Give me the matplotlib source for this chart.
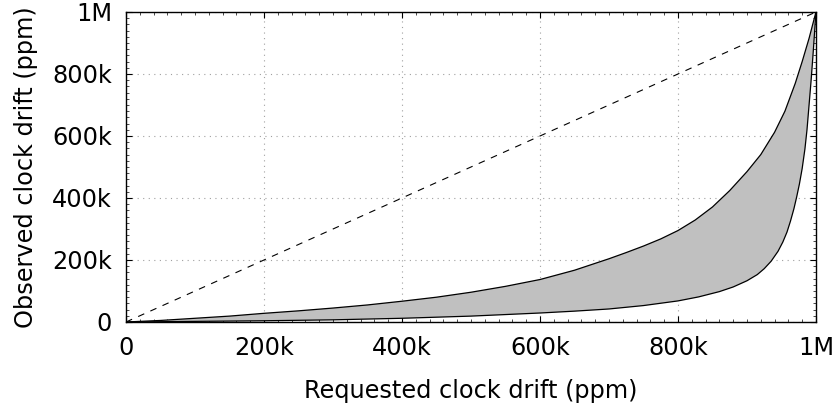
import matplotlib
matplotlib.use("Agg")
import matplotlib.pyplot as plt
from matplotlib.ticker import FixedLocator, MultipleLocator

# Requested drift (ppm) and observed drift bounds (ppm)
upper_x = [0, 50e3, 100e3, 150e3, 200e3, 250e3, 300e3, 350e3, 400e3, 450e3,
           500e3, 550e3, 600e3, 650e3, 700e3, 725e3, 750e3, 775e3, 800e3,
           825e3, 850e3, 875e3, 900e3, 920e3, 940e3, 955e3, 970e3, 980e3,
           990e3, 1000e3]
upper_y = [0, 5e3, 12e3, 19e3, 28e3, 36e3, 45e3, 55e3, 67e3, 80e3,
           96e3, 115e3, 137e3, 167e3, 204e3, 224e3, 245e3, 268e3, 295e3,
           329e3, 371e3, 424e3, 485e3, 540e3, 612e3, 680e3, 770e3, 840e3,
           915e3, 1000e3]

lower_x = [0, 100e3, 200e3, 300e3, 400e3, 500e3, 600e3, 650e3, 700e3, 750e3,
           800e3, 830e3, 860e3, 880e3, 900e3, 915e3, 925e3, 935e3, 945e3,
           952e3, 958e3, 963e3, 968e3, 972e3, 976e3, 980e3, 984e3, 987e3,
           990e3, 993e3, 996e3, 1000e3]
lower_y = [0, 2e3, 4e3, 7e3, 12e3, 19e3, 29e3, 35e3, 42e3, 53e3,
           68e3, 81e3, 98e3, 113e3, 133e3, 153e3, 172e3, 196e3, 228e3,
           258e3, 290e3, 325e3, 365e3, 403e3, 445e3, 495e3, 558e3, 620e3,
           700e3, 780e3, 870e3, 1000e3]

diag_x = [0, 1e6]
diag_y = [0, 1e6]

tick_vals = [0, 200e3, 400e3, 600e3, 800e3, 1e6]
tick_labels = ["0", "200k", "400k", "600k", "800k", "1M"]

fig = plt.figure(figsize=(8.35, 4.15), dpi=100)
ax = fig.add_axes([0.1509, 0.2241, 0.9772 - 0.1509, 0.9711 - 0.2241])

fs = 17.3

# shaded band between the upper and lower curves
poly_x = list(upper_x) + list(lower_x[::-1])
poly_y = list(upper_y) + list(lower_y[::-1])
ax.fill(poly_x, poly_y, color="#c0c0c0", lw=0, zorder=2)
ax.plot(upper_x, upper_y, color="black", lw=0.9, zorder=3)
ax.plot(lower_x, lower_y, color="black", lw=0.9, zorder=3)

ax.plot(diag_x, diag_y, color="black", lw=0.8, linestyle=(0, (6, 6)), zorder=3)

ax.set_xlim(0, 1e6)
ax.set_ylim(0, 1e6)
ax.xaxis.set_major_locator(FixedLocator(tick_vals))
ax.yaxis.set_major_locator(FixedLocator(tick_vals))
ax.set_xticklabels(tick_labels, fontsize=fs)
ax.set_yticklabels(tick_labels, fontsize=fs)
ax.xaxis.set_minor_locator(MultipleLocator(20e3))
ax.yaxis.set_minor_locator(MultipleLocator(20e3))
ax.tick_params(which="major", direction="in", length=4.5, width=0.8,
               top=True, right=True, pad=10)
ax.tick_params(which="minor", direction="in", length=2, width=0.5,
               top=True, right=True)

ax.grid(True, which="major", color="#a0a0a0", linestyle=(0, (1, 4)), lw=0.8)
ax.set_axisbelow(True)
for s in ax.spines.values():
    s.set_linewidth(1.0)
    s.set_zorder(5)

ax.set_xlabel("Requested clock drift (ppm)", fontsize=fs, labelpad=14)
ax.set_ylabel("Observed clock drift (ppm)", fontsize=fs, labelpad=10)

fig.savefig("out.png", dpi=100)
